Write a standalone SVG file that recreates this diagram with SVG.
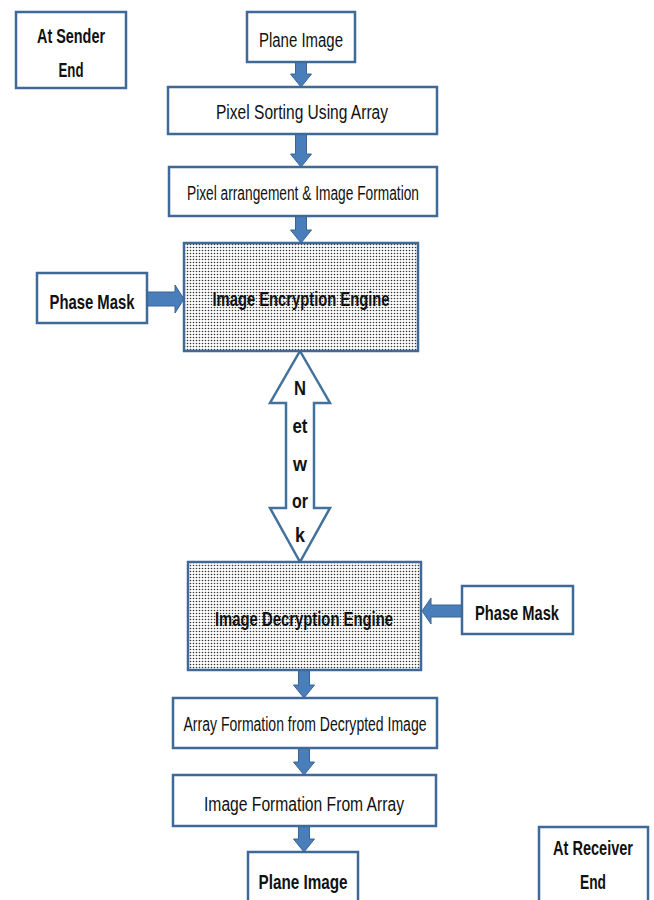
<svg xmlns="http://www.w3.org/2000/svg" width="654" height="900" viewBox="0 0 654 900">
<defs>
<pattern id="dots" x="0" y="0" width="3" height="3" patternUnits="userSpaceOnUse">
<rect width="3" height="3" fill="#ffffff"/>
<circle cx="1.5" cy="1.5" r="0.8" fill="#333333"/>
</pattern>
<style>
.box{fill:#ffffff;stroke:#3F6A98;stroke-width:2.5}
.eng{fill:url(#dots);stroke:#3F6A98;stroke-width:2.5}
.arr{fill:#4A7EBB;stroke:#3A6494;stroke-width:1}
.net{fill:#ffffff;stroke:#41719C;stroke-width:2.5;stroke-linejoin:miter}
text{font-family:"Liberation Sans Narrow","Liberation Sans",Arial,sans-serif;fill:#111;text-anchor:middle}
.r{font-size:20px}
.b{font-size:21px;font-weight:bold}
</style>
</defs>
<rect width="654" height="900" fill="#ffffff"/>

<g id="connectors">
<path class="arr" d="M295.5,62 H306.5 V74 H311.5 L301,87 L290.5,74 H295.5 Z"/>
<path class="arr" d="M295.5,134 H306.5 V154 H311.5 L301,167 L290.5,154 H295.5 Z"/>
<path class="arr" d="M295.5,216 H306.5 V230 H311.5 L301,243 L290.5,230 H295.5 Z"/>
<path class="arr" d="M147,292 H175 V285 L184,299 L175,313 V306 H147 Z"/>
<path class="arr" d="M462,605 H431 V598 L422,611 L431,624 V617 H462 Z"/>
<path class="arr" d="M298.5,670 H309.5 V685 H314.5 L304,698 L293.5,685 H298.5 Z"/>
<path class="arr" d="M298.5,748 H309.5 V762 H314.5 L304,775 L293.5,762 H298.5 Z"/>
<path class="arr" d="M298.5,826 H309.5 V839 H314.5 L304,852 L293.5,839 H298.5 Z"/>
<g id="network">
<path class="net" d="M300,351 L330,403 H314 V508 H330 L300,562 L270,508 H286 V403 H270 Z"/>
<text class="b" x="300" y="395" font-size="20" textLength="12" lengthAdjust="spacingAndGlyphs">N</text>
<text class="b" x="300" y="433" font-size="20" textLength="15" lengthAdjust="spacingAndGlyphs">et</text>
<text class="b" x="300" y="471" font-size="20" textLength="14" lengthAdjust="spacingAndGlyphs">w</text>
<text class="b" x="300" y="508" font-size="20" textLength="16" lengthAdjust="spacingAndGlyphs">or</text>
<text class="b" x="300" y="542" font-size="20" textLength="10" lengthAdjust="spacingAndGlyphs">k</text>
</g>
</g>

<g id="sender">
<rect class="box" x="16" y="12" width="110" height="76"/>
<text class="b" x="71" y="43" textLength="68" lengthAdjust="spacingAndGlyphs">At Sender</text>
<text class="b" x="71" y="77" textLength="25" lengthAdjust="spacingAndGlyphs">End</text>
</g>

<g id="plane-top">
<rect class="box" x="247" y="12" width="108" height="50"/>
<text class="r" x="301" y="47" textLength="84" lengthAdjust="spacingAndGlyphs">Plane Image</text>
</g>

<g id="pixel-sorting">
<rect class="box" x="168" y="87" width="269" height="47"/>
<text class="r" x="302" y="119" font-size="21" textLength="172" lengthAdjust="spacingAndGlyphs">Pixel Sorting Using Array</text>
</g>

<g id="pixel-arrangement">
<rect class="box" x="169" y="167" width="268" height="49"/>
<text class="r" x="303" y="200" font-size="19" textLength="232" lengthAdjust="spacingAndGlyphs">Pixel arrangement &amp; Image Formation</text>
</g>

<g id="encryption">
<rect class="eng" x="184" y="243" width="234" height="108"/>
<text class="b" x="301" y="306" font-size="22" textLength="177" lengthAdjust="spacingAndGlyphs">Image Encryption Engine</text>
</g>

<g id="phase-mask-left">
<rect class="box" x="37" y="273" width="110" height="50"/>
<text class="b" x="92" y="309" textLength="85" lengthAdjust="spacingAndGlyphs">Phase Mask</text>
</g>

<g id="decryption">
<rect class="eng" x="188" y="562" width="233" height="108"/>
<text class="b" x="304" y="626" font-size="22" textLength="178" lengthAdjust="spacingAndGlyphs">Image Decryption Engine</text>
</g>

<g id="phase-mask-right">
<rect class="box" x="462" y="586" width="111" height="48"/>
<text class="b" x="517" y="620" textLength="84" lengthAdjust="spacingAndGlyphs">Phase Mask</text>
</g>

<g id="array-formation">
<rect class="box" x="173" y="698" width="264" height="50"/>
<text class="r" x="305" y="731" font-size="19" textLength="243" lengthAdjust="spacingAndGlyphs">Array Formation  from Decrypted  Image</text>
</g>

<g id="image-formation">
<rect class="box" x="173" y="775" width="263" height="51"/>
<text class="r" x="304" y="811" textLength="200" lengthAdjust="spacingAndGlyphs">Image Formation From Array</text>
</g>

<g id="plane-bottom">
<rect class="box" x="248" y="852" width="110" height="60"/>
<text class="b" x="303" y="889" textLength="89" lengthAdjust="spacingAndGlyphs">Plane Image</text>
</g>

<g id="receiver">
<rect class="box" x="539" y="827" width="109" height="80"/>
<text class="b" x="593" y="855" font-size="18" textLength="80" lengthAdjust="spacingAndGlyphs">At Receiver</text>
<text class="b" x="593" y="889" textLength="26" lengthAdjust="spacingAndGlyphs">End</text>
</g>
</svg>
